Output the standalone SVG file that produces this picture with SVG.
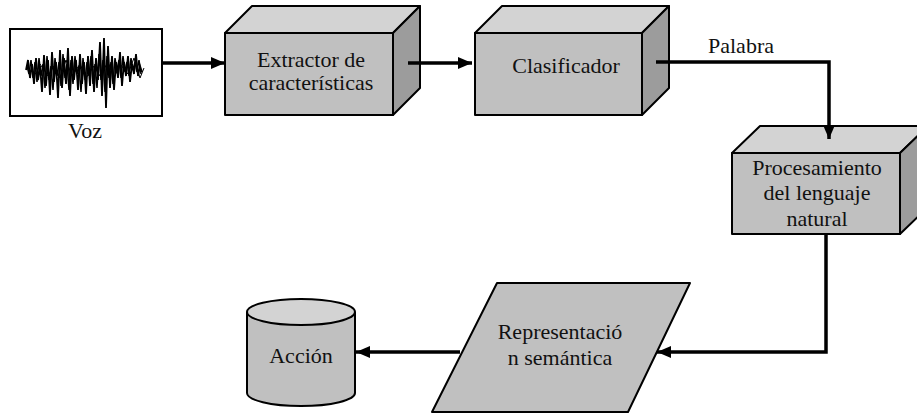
<svg xmlns="http://www.w3.org/2000/svg" width="917" height="414" viewBox="0 0 917 414" font-family="'Liberation Serif', 'Times New Roman', 'DejaVu Serif', serif">
<defs>
<marker id="ah" markerWidth="14" markerHeight="12" refX="14" refY="6" orient="auto" markerUnits="userSpaceOnUse">
<path d="M0,0 L14,6 L0,12 Z" fill="#000"/>
</marker>
<style>
text{font-family:'Liberation Serif','Times New Roman','DejaVu Serif',serif;font-size:22px;fill:#111;text-anchor:middle}
.front{fill:#c0c0c0;stroke:#000;stroke-width:2;stroke-linejoin:round}
.top{fill:#d3d3d3;stroke:#000;stroke-width:2;stroke-linejoin:round}
.side{fill:#9c9c9c;stroke:#000;stroke-width:2;stroke-linejoin:round}
.conn{fill:none;stroke:#000;stroke-width:3.5;marker-end:url(#ah)}
</style>
</defs>
<rect width="917" height="414" fill="#fff"/>
<g id="voz">
<rect x="10" y="29" width="152" height="87" fill="#fff" stroke="#000" stroke-width="2"/>
<polyline fill="none" stroke="#000" stroke-width="1.8" points="26,70 28,60 30,78 32,64 34,84 36,58 38,80 40,66 42,92 44,55 46,86 48,60 50,95 52,52 54,82 56,62 58,98 60,50 62,88 64,58 66,84 68,48 70,96 72,56 74,80 76,60 78,90 80,54 82,84 84,62 86,94 88,56 90,86 92,50 94,92 96,58 98,80 100,42 102,96 104,38 106,108 108,46 110,88 112,56 114,90 116,62 118,78 120,52 122,86 124,62 126,76 128,56 130,82 132,64 134,74 136,54 138,76 140,66 142,72"/>
<polyline fill="none" stroke="#000" stroke-width="1.5" points="27,66 29,74 31,60 33,78 35,62 37,82 39,58 41,76 43,64 45,88 47,56 49,80 51,66 53,90 55,58 57,76 59,62 61,86 63,54 65,78 67,64 69,90 71,60 73,84 75,56 77,74 79,66 81,92 83,58 85,80 87,62 89,76 91,56 93,84 95,64 97,88 99,54 101,80 103,60 105,92 107,56 109,78 111,62 113,84 115,58 117,70 119,60 121,78 123,56 125,72 127,62 129,76 131,58 133,70 135,62 137,72 139,60 141,74"/>
<polyline fill="none" stroke="#000" stroke-width="1" points="30,70 36,74 40,64 48,76 54,66 60,78 66,60 72,76 80,64 86,78 94,66 100,76 108,62 114,78 120,64 128,74 134,58 140,78 144,68"/>
<text x="85" y="138">Voz</text>
</g>
<g id="extractor">
<polygon class="top" points="225,33 252,6 420,6 393,33"/>
<polygon class="side" points="393,33 420,6 420,88 393,115"/>
<rect class="front" x="225" y="33" width="168" height="82"/>
<text x="311" y="67">Extractor de</text>
<text x="311" y="90">características</text>
</g>
<g id="clasificador">
<polygon class="top" points="475,33 502,6 669,6 642,33"/>
<polygon class="side" points="642,33 669,6 669,88 642,115"/>
<rect class="front" x="475" y="33" width="167" height="82"/>
<text x="566" y="73">Clasificador</text>
</g>
<g id="procesamiento">
<polygon class="top" points="732,153 760,126 928,126 900,153"/>
<polygon class="side" points="900,153 928,126 928,207 900,234"/>
<rect class="front" x="732" y="153" width="168" height="81"/>
<text x="817" y="175">Procesamiento</text>
<text x="817" y="200">del lenguaje</text>
<text x="817" y="226">natural</text>
</g>
<g id="representacion">
<polygon class="front" points="497,283 690,283 628,412 432,412"/>
<text x="560" y="339">Representació</text>
<text x="560" y="365">n semántica</text>
</g>
<g id="accion">
<path class="front" d="M247,312 V393 A54,13 0 0 0 355,393 V312"/>
<ellipse class="top" cx="301" cy="312" rx="54" ry="13"/>
<text x="301" y="363">Acción</text>
</g>
<g id="connectors">
<line class="conn" x1="162" y1="63" x2="225" y2="63"/>
<line class="conn" x1="408" y1="63" x2="472" y2="63"/>
<path class="conn" d="M656,62 H829 V139"/>
<path class="conn" d="M826,234 V352 H657"/>
<line class="conn" x1="460" y1="352" x2="356" y2="352"/>
<text x="708" y="53" style="text-anchor:start">Palabra</text>
</g>
</svg>
